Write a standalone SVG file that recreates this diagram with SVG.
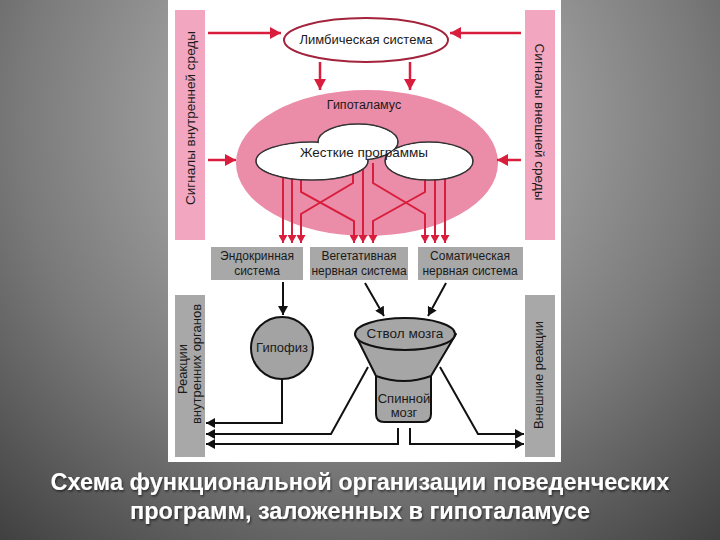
<svg xmlns="http://www.w3.org/2000/svg" width="720" height="540" viewBox="0 0 720 540">
<defs>
<radialGradient id="bg" cx="360" cy="120" r="620" gradientUnits="userSpaceOnUse">
<stop offset="0" stop-color="#c4c4c4"/>
<stop offset="0.55" stop-color="#7a7a7a"/>
<stop offset="1" stop-color="#2e2e2e"/>
</radialGradient>
<filter id="sh" x="-5%" y="-30%" width="110%" height="160%">
<feDropShadow dx="1" dy="1.5" stdDeviation="1" flood-color="#000" flood-opacity="0.6"/>
</filter>
<marker id="ra" markerUnits="userSpaceOnUse" markerWidth="12" markerHeight="12" refX="11" refY="6" orient="auto"><path d="M0,0 L11,6 L0,12 z" fill="#d81e3c"/></marker>
<marker id="rs" markerUnits="userSpaceOnUse" markerWidth="9" markerHeight="9" refX="8" refY="4.5" orient="auto"><path d="M0,0 L8,4.5 L0,9 z" fill="#d81e3c"/></marker>
<marker id="ba" markerUnits="userSpaceOnUse" markerWidth="10" markerHeight="10" refX="9" refY="5" orient="auto"><path d="M0,0 L9,5 L0,10 z" fill="#111"/></marker>
</defs>
<style>
.t{font-family:"Liberation Sans",Arial,sans-serif;fill:#1a1a1a;text-anchor:middle}
.s12{font-size:12px}
.s125{font-size:12.5px}
.s13{font-size:13px}
.s135{font-size:13.5px}
.red{stroke:#d81e3c;stroke-width:2.5;fill:none}
.wire{stroke:#d81e3c;stroke-width:2;fill:none;marker-end:url(#rs)}
.blk{stroke:#111;stroke-width:2;fill:none;marker-end:url(#ba)}
.gray{fill:#a8a8a8}
.pink{fill:#f2a6bf}
.cap{font-family:"Liberation Sans",Arial,sans-serif;font-weight:bold;font-size:23.5px;fill:#fff;text-anchor:middle}
</style>
<rect x="0" y="0" width="720" height="540" fill="url(#bg)"/>
<rect x="168" y="0" width="393" height="462" fill="#fff"/>

<g id="side-internal-signals">
<rect class="pink" x="175" y="10" width="30" height="230"/>
<text class="t s135" transform="translate(195,118) rotate(-90)">Сигналы внутренней среды</text>
</g>
<g id="side-external-signals">
<rect class="pink" x="525" y="10" width="30" height="230"/>
<text class="t s135" transform="translate(535,122) rotate(90)">Сигналы внешней среды</text>
</g>
<g id="side-internal-reactions">
<rect class="gray" x="175" y="295" width="30" height="162"/>
<text class="t s13" transform="translate(187,369) rotate(-90)">Реакции</text>
<text class="t s13" transform="translate(201,364) rotate(-90)">внутренних органов</text>
</g>
<g id="side-external-reactions">
<rect class="gray" x="525" y="295" width="30" height="162"/>
<text class="t s13" transform="translate(543,375) rotate(-90)">Внешние реакции</text>
</g>

<g id="limbic">
<ellipse cx="366" cy="40" rx="82" ry="22" fill="#fff" stroke="#a3223c" stroke-width="2"/>
<text class="t s13" x="366" y="44">Лимбическая система</text>
</g>

<g id="hypothalamus">
<ellipse cx="367" cy="163" rx="131" ry="73" fill="#eb8ca9"/>
<text class="t s125" x="364" y="109">Гипоталамус</text>
</g>

<g id="connectors">
<path class="red" d="M208,33 H281" marker-end="url(#ra)"/>
<path class="red" d="M521,33 H450" marker-end="url(#ra)"/>
<path class="red" d="M320,62 V90" marker-end="url(#ra)"/>
<path class="red" d="M410,62 V90" marker-end="url(#ra)"/>
<path class="red" d="M208,160 H236" marker-end="url(#ra)"/>
<path class="red" d="M521,160 H497" marker-end="url(#ra)"/>

<path class="wire" d="M283,178 V243"/>
<path class="wire" d="M292,178 V243"/>
<path class="wire" d="M301,178 V192 L354,221 V243"/>
<path class="wire" d="M353,163 V183 L301,214 V243"/>
<path class="wire" d="M363,163 V243"/>
<path class="wire" d="M373,163 V183 L425,214 V243"/>
<path class="wire" d="M425,178 V192 L373,221 V243"/>
<path class="wire" d="M435,178 V243"/>
<path class="wire" d="M445,178 V243"/>

<path class="blk" d="M283,282 V315"/>
<path class="blk" d="M365,283 L384,316"/>
<path class="blk" d="M446,283 L428,316"/>

<path class="blk" d="M282,379 V423 H206"/>
<path class="blk" d="M368,367 L331,434 H206"/>
<path class="blk" d="M398,428 V444 H206"/>
<path class="blk" d="M410,428 V444 H524"/>
<path class="blk" d="M440,367 L478,434 H524"/>
</g>

<g id="programs">
<ellipse cx="312" cy="161" rx="56" ry="19" fill="#fff" stroke="#333" stroke-width="1.6"/>
<ellipse cx="358" cy="142" rx="40" ry="18" fill="#fff" stroke="#333" stroke-width="1.6"/>
<ellipse cx="429" cy="161" rx="44" ry="19" fill="#fff" stroke="#333" stroke-width="1.6"/>
<ellipse cx="312" cy="161" rx="55" ry="18" fill="#fff"/>
<ellipse cx="358" cy="142" rx="39" ry="17" fill="#fff"/>
<ellipse cx="429" cy="161" rx="43" ry="18" fill="#fff"/>
<text class="t s135" x="364" y="157">Жесткие программы</text>
</g>

<g id="endocrine">
<rect class="gray" x="211" y="247" width="92" height="33"/>
<text class="t s12" x="257" y="260">Эндокринная</text>
<text class="t s12" x="257" y="275">система</text>
</g>
<g id="vegetative">
<rect class="gray" x="310" y="247" width="98" height="33"/>
<text class="t s12" x="359" y="260">Вегетативная</text>
<text class="t s12" x="359" y="275">нервная система</text>
</g>
<g id="somatic">
<rect class="gray" x="418" y="247" width="105" height="33"/>
<text class="t s12" x="470" y="260">Соматическая</text>
<text class="t s12" x="470" y="275">нервная система</text>
</g>

<g id="pituitary">
<circle cx="282" cy="348" r="31" fill="#a3a3a3" stroke="#111" stroke-width="2"/>
<text class="t s13" x="282" y="352">Гипофиз</text>
</g>

<g id="brain">
<path d="M376,372 V414 Q376,422 384,422 H423 Q431,422 431,414 V372 z" fill="#a6a6a6" stroke="#111" stroke-width="2"/>
<path d="M355,334 L376,376 Q404,386 431,376 L456,334 z" fill="#a6a6a6" stroke="#111" stroke-width="2" stroke-linejoin="round"/>
<ellipse cx="405" cy="334" rx="50" ry="16" fill="#a6a6a6" stroke="#111" stroke-width="2"/>
<text class="t s135" x="405" y="338">Ствол мозга</text>
<text class="t s13" x="404" y="403">Спинной</text>
<text class="t s13" x="404" y="417">мозг</text>
</g>

<g id="caption" filter="url(#sh)">
<text class="cap" x="360" y="490">Схема функциональной организации поведенческих</text>
<text class="cap" x="360" y="519">программ, заложенных в гипоталамусе</text>
</g>
</svg>
